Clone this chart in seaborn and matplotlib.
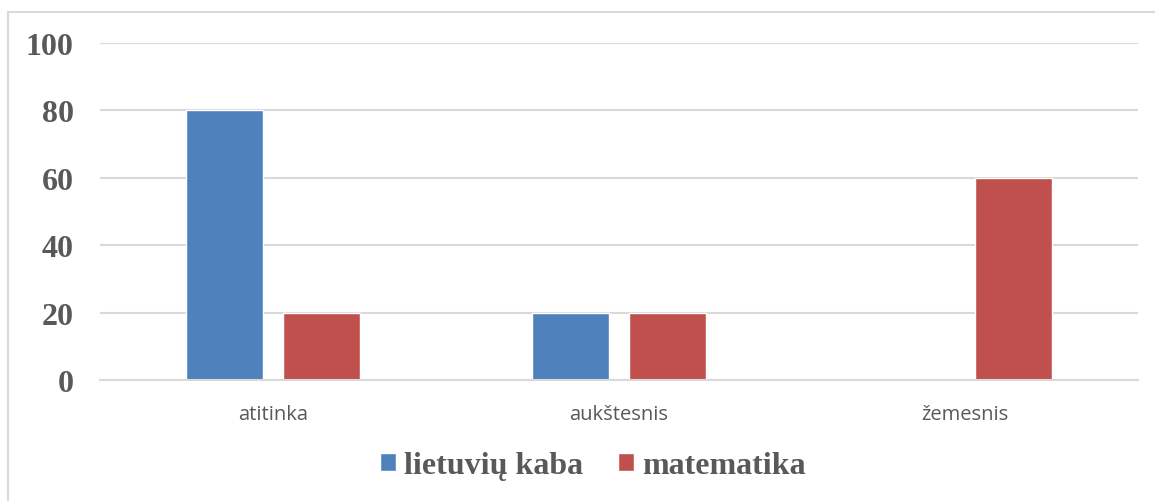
import pandas as pd
import matplotlib.pyplot as plt
import seaborn as sns
from matplotlib.lines import Line2D

categories = ['atitinka', 'aukštesnis', 'žemesnis']
lietuviu = [80, 20, 0]
matematika = [20, 20, 60]
series_names = ['lietuvių kaba', 'matematika']
y_ticks = [0, 20, 40, 60, 80, 100]

df = pd.DataFrame({
    'kategorija': categories * 2,
    'reiksme': lietuviu + matematika,
    'dalykas': [series_names[0]] * 3 + [series_names[1]] * 3,
})

sns.set_theme(style='white')
text_col = '#595959'

fig = plt.figure(figsize=(11.55, 5.02), dpi=100)
ax = fig.add_axes([100 / 1155, 1 - 381 / 502, 1038 / 1155, 337 / 502])

sns.barplot(data=df, x='kategorija', y='reiksme', hue='dalykas',
            palette=['#4F81BD', '#C0504D'], width=0.566, gap=0.214,
            ax=ax, legend=True, saturation=1)

ax.set_xlim(-0.5, 2.5)
ax.set_ylim(0, 100)
ax.set_yticks(y_ticks)
ax.yaxis.grid(True, color='#D9D9D9', linewidth=1.5)
ax.set_axisbelow(True)
for s in ['top', 'right', 'left']:
    ax.spines[s].set_visible(False)
ax.spines['bottom'].set_color('#D9D9D9')
ax.spines['bottom'].set_linewidth(1.5)
ax.set_xlabel('')
ax.set_ylabel('')
ax.tick_params(axis='both', length=0)
ax.tick_params(axis='y', pad=19)
ax.tick_params(axis='x', pad=17)

for lbl in ax.get_yticklabels():
    lbl.set_fontfamily('Liberation Serif')
    lbl.set_fontweight('bold')
    lbl.set_fontsize(23)
    lbl.set_color(text_col)
for lbl in ax.get_xticklabels():
    lbl.set_fontfamily('Open Sans')
    lbl.set_fontsize(14.5)
    lbl.set_color(text_col)

leg = ax.legend(loc='center', bbox_to_anchor=(0.4745, -0.255), ncol=2, frameon=False,
                prop={'family': 'Liberation Serif', 'weight': 'bold', 'size': 23},
                handlelength=0.5, handleheight=0.5, handletextpad=0.25,
                columnspacing=1.1, labelcolor=text_col)

# rėmelis (viršus ir kairė)
fig.add_artist(Line2D([7.5 / 1155, 1], [1 - 12.5 / 502, 1 - 12.5 / 502],
                      color='#D9D9D9', linewidth=1.5, transform=fig.transFigure))
fig.add_artist(Line2D([7.5 / 1155, 7.5 / 1155], [0, 1 - 12.5 / 502],
                      color='#D9D9D9', linewidth=1.5, transform=fig.transFigure))

plt.savefig('out.png', dpi=100)
